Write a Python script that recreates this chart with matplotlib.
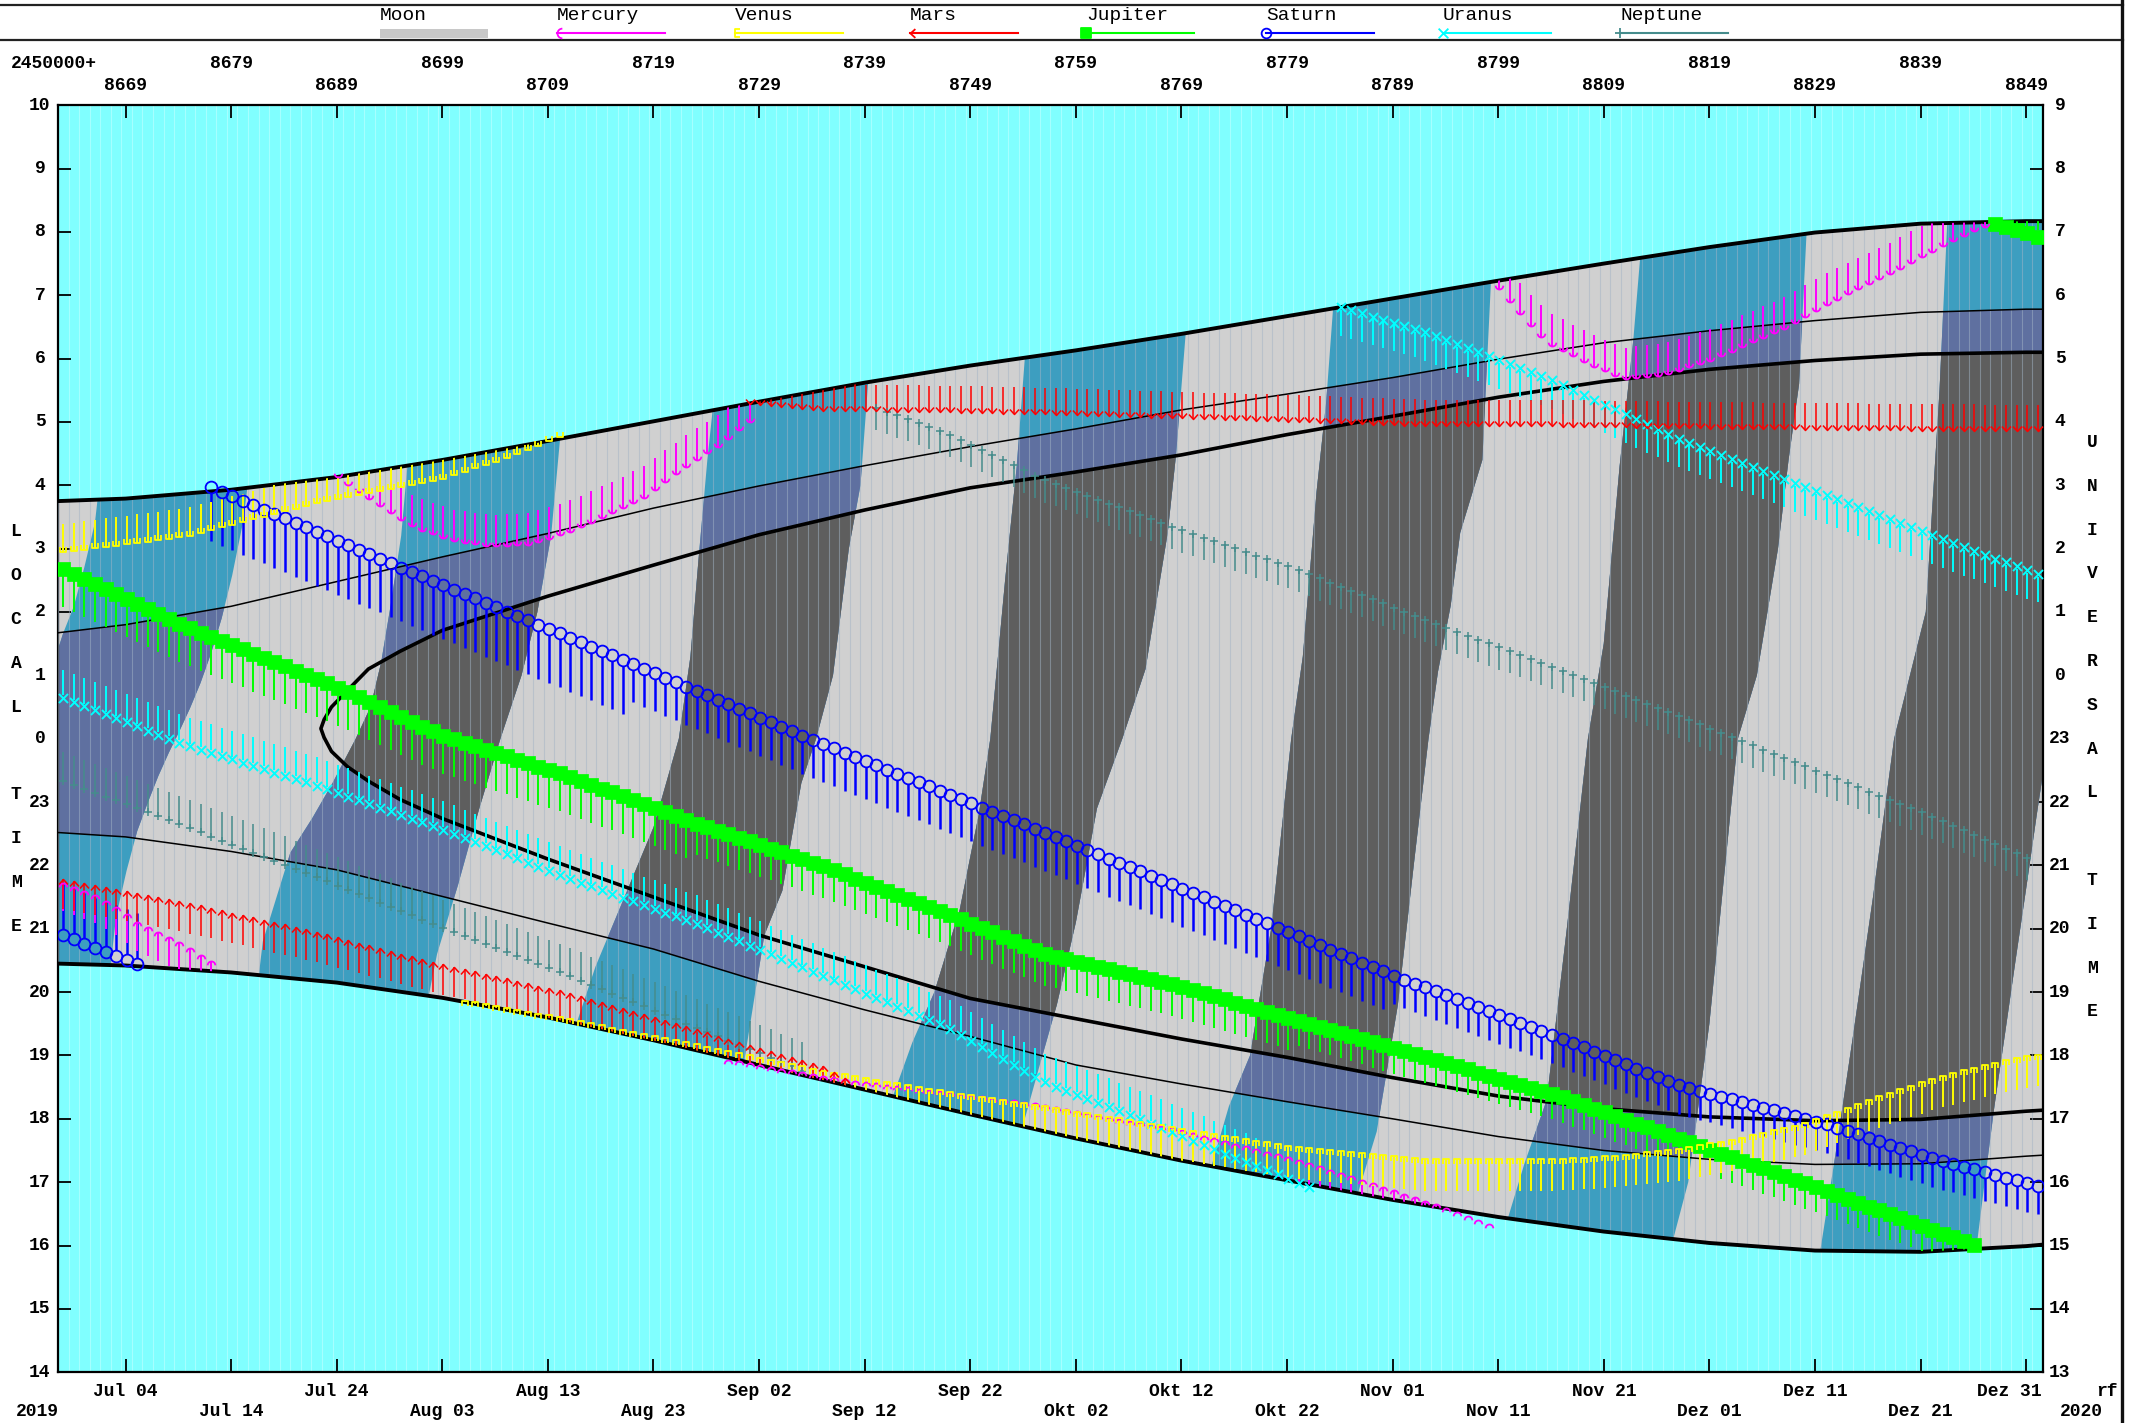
import numpy as np
import matplotlib
matplotlib.use("Agg")
import matplotlib.pyplot as plt
from matplotlib.patches import Polygon, Rectangle
from matplotlib.lines import Line2D
from matplotlib.path import Path
from matplotlib.transforms import Affine2D
from matplotlib.patheffects import AbstractPathEffect
from matplotlib.colors import to_rgba

plt.rcParams["font.family"] = ["Liberation Mono", "DejaVu Sans Mono"]

# x: Julian date - 2450000, y: local time (CET) in hours, after midnight counted on as 24..34

# sun: sunset / sunrise, nautical and astronomical twilight
sun_jd = [8662.5, 8669, 8679, 8689, 8699, 8709, 8719, 8729, 8739, 8749, 8759,
          8769, 8779, 8789, 8799, 8809, 8819, 8829, 8839, 8849, 8851]
sunset = [20.45, 20.42, 20.31, 20.15, 19.91, 19.60, 19.24, 18.85, 18.46, 18.07, 17.69,
          17.34, 17.03, 16.72, 16.45, 16.22, 16.04, 15.92, 15.90, 15.99, 16.02]
sunrise = [27.75, 27.79, 27.93, 28.13, 28.40, 28.70, 29.01, 29.32, 29.62, 29.89, 30.13,
           30.39, 30.67, 30.95, 31.23, 31.50, 31.76, 31.99, 32.13, 32.17, 32.17]
naut_dusk = [22.52, 22.45, 22.22, 21.93, 21.51, 21.09, 20.68, 20.17, 19.72, 19.30, 18.85,
             18.55, 18.27, 18.00, 17.72, 17.50, 17.36, 17.28, 17.29, 17.41, 17.43]
naut_dawn = [25.67, 25.80, 26.09, 26.48, 26.87, 27.24, 27.64, 27.99, 28.31, 28.61, 28.89,
             29.19, 29.44, 29.70, 29.99, 30.25, 30.44, 30.60, 30.73, 30.78, 30.78]
astro_jd = [8687.5, 8687.8, 8688.5, 8690, 8692, 8695, 8699, 8709, 8719, 8729, 8739, 8749,
            8759, 8769, 8779, 8789, 8799, 8809, 8819, 8829, 8839, 8849, 8851]
astro_dusk = [24.16, 24.02, 23.80, 23.56, 23.33, 23.04, 22.74, 22.10, 21.50, 20.90, 20.40, 19.90,
              19.58, 19.26, 18.97, 18.65, 18.36, 18.16, 18.03, 17.97, 17.99, 18.12, 18.14]
astro_dawn = [24.16, 24.30, 24.50, 24.76, 25.10, 25.38, 25.71, 26.25, 26.74, 27.22, 27.61, 27.96,
              28.21, 28.48, 28.80, 29.09, 29.39, 29.64, 29.83, 29.97, 30.07, 30.10, 30.10]

# moon: moonrise / moonset lines bounding each moonless stretch (JD, hour)
rise_a = [(8662.0, 25.1), (8663.1, 25.67), (8664.1, 26.09), (8665.1, 26.71), (8666.1, 27.41), (8666.7, 28.3)]
set_a = [(8667.3, 20.0), (8668.1, 21.19), (8669.1, 21.92), (8670.1, 22.54), (8671.1, 22.99),
         (8672.1, 23.41), (8673.1, 23.78), (8674.1, 24.12), (8675.1, 24.48), (8676.1, 24.88),
         (8677.1, 25.35), (8678.1, 25.90), (8679.1, 26.58), (8680.1, 27.40), (8680.8, 28.3)]
rise_b = [(8681.5, 20.1), (8682.0, 20.8), (8684.6, 22.2), (8686.7, 22.75), (8688.6, 23.3), (8690.8, 24.0),
          (8692.2, 24.5), (8693.2, 25.2), (8694.1, 26.1), (8695.1, 27.2), (8695.8, 28.5)]
set_b = [(8697.3, 19.6), (8698.5, 20.6), (8700.5, 21.7), (8702.5, 22.9), (8704.5, 24.0),
         (8706.5, 25.0), (8708.0, 26.0), (8709.3, 27.2), (8710.3, 29.0)]
rise_c = [(8711.3, 19.3), (8713.5, 20.4), (8716.5, 21.6), (8719.0, 22.6), (8721.4, 24.0),
          (8722.5, 25.3), (8723.3, 26.9), (8724.1, 28.4), (8724.8, 29.5)]
set_c = [(8727.3, 18.6), (8729.5, 20.9), (8731.2, 21.6), (8733.0, 23.3), (8734.4, 24.0),
         (8736.0, 25.0), (8737.5, 27.0), (8738.6, 28.0), (8739.5, 30.0)]
rise_d = [(8740.9, 18.0), (8743.5, 19.2), (8745.6, 20.0), (8748.0, 21.3), (8749.8, 22.8),
          (8750.9, 24.0), (8752.3, 26.5), (8753.4, 28.3), (8754.3, 30.3)]
set_d = [(8753.5, 17.6), (8755.5, 18.8), (8757.2, 19.8), (8759.0, 21.1), (8761.0, 22.9),
         (8763.4, 24.0), (8765.6, 25.1), (8767.7, 27.25), (8768.5, 28.5), (8769.5, 30.6)]
rise_e = [(8771.4, 17.0), (8773.5, 18.2), (8775.5, 19.0), (8777.5, 21.0), (8779.4, 24.0),
          (8780.5, 25.3), (8781.8, 27.9), (8782.7, 29.3), (8783.5, 31.1)]
set_e = [(8785.3, 16.6), (8787.5, 17.8), (8789.5, 19.8), (8791.0, 22.0), (8792.4, 24.0),
         (8793.3, 25.06), (8794.5, 26.1), (8795.4, 27.25), (8797.5, 28.4), (8798.4, 31.5)]
rise_f = [(8799.5, 16.2), (8801.5, 17.3), (8803.6, 18.3), (8805.5, 21.0), (8807.5, 24.0),
          (8809.0, 25.5), (8810.5, 28.3), (8811.8, 30.3), (8812.6, 31.9)]
set_f = [(8815.1, 15.8), (8817.0, 17.0), (8819.0, 19.5), (8820.5, 22.0), (8821.7, 24.0),
         (8823.5, 25.0), (8825.5, 27.0), (8826.5, 28.4), (8827.5, 29.6), (8828.3, 32.3)]
rise_g = [(8829.3, 15.7), (8831.0, 17.5), (8832.6, 19.3), (8834.5, 21.5), (8836.5, 24.0),
          (8839.5, 26.0), (8840.8, 29.5), (8841.6, 32.4)]
set_g = [(8844.1, 15.7), (8845.0, 16.9), (8846.0, 18.2), (8847.0, 19.34), (8848.0, 20.5),
         (8849.0, 21.63), (8850.0, 22.79), (8851.0, 23.9)]

# planets: rising / setting times (JD, hour)
mercury_set1 = [(8662.6, 21.76), (8666.1, 21.54), (8668.1, 21.35), (8670.1, 21.10), (8674.7, 20.74), (8677.7, 20.42)]
mercury_rise1 = [(8688.9, 28.15), (8691.0, 27.90), (8694.0, 27.57), (8696.4, 27.32), (8700.0, 27.12),
                 (8703.6, 27.03), (8707.3, 27.06), (8710.9, 27.25), (8714.5, 27.51), (8718.1, 27.80),
                 (8721.7, 28.25), (8725.4, 28.64), (8729.0, 29.12)]
mercury_set2 = [(8725.5, 18.95), (8738.0, 18.60), (8748.0, 18.40), (8755.9, 18.23), (8761.9, 18.03),
                (8768.0, 17.87), (8774.0, 17.61), (8780.0, 17.36), (8786.1, 17.04), (8792.1, 16.71), (8798.2, 16.33)]
mercury_rise2 = [(8798.8, 31.15), (8801.9, 30.54), (8803.9, 30.22), (8807.8, 29.89), (8811.0, 29.67),
                 (8815.0, 29.75), (8819.0, 29.96), (8826.1, 30.47), (8830.2, 30.86), (8836.2, 31.34),
                 (8841.1, 31.78), (8844.1, 32.01), (8846.0, 32.15)]
venus_rise = [(8662.6, 26.93), (8674.7, 27.19), (8686.7, 27.70), (8698.8, 28.09), (8704.8, 28.41), (8710.3, 28.77)]
venus_set = [(8700.6, 19.88), (8710.9, 19.58), (8722.9, 19.18), (8735.0, 18.76), (8747.1, 18.42),
             (8756.0, 18.20), (8768.0, 17.87), (8780.0, 17.55), (8792.1, 17.36), (8804.2, 17.36),
             (8810.2, 17.42), (8816.2, 17.52), (8822.3, 17.71), (8828.3, 17.94), (8834.4, 18.32),
             (8840.4, 18.65), (8846.4, 18.90), (8850.6, 19.03)]
mars_set = [(8662.6, 21.80), (8674.7, 21.42), (8686.7, 20.97), (8698.8, 20.45), (8710.9, 20.00),
            (8722.9, 19.42), (8735.0, 18.84), (8738.0, 18.55)]
mars_rise = [(8727.8, 29.28), (8735.0, 29.18), (8747.1, 29.15), (8756.0, 29.12), (8768.0, 29.06),
             (8780.0, 29.00), (8792.1, 28.93), (8804.2, 28.93), (8816.2, 28.90), (8828.3, 28.88),
             (8840.4, 28.86), (8850.6, 28.85)]
jupiter_set_summer = [(8662.6, 26.72), (8674.7, 25.77), (8689.2, 24.80), (8698.8, 24.06), (8710.9, 23.41), (8722.9, 22.67)]
jupiter_set_autumn = [(8722.9, 22.67), (8735.0, 21.99), (8747.1, 21.22), (8756.0, 20.60), (8768.0, 20.13), (8780.0, 19.55)]
jupiter_set_winter = [(8780.0, 19.55), (8792.1, 18.97), (8804.2, 18.39), (8816.2, 17.68), (8828.3, 16.97),
                      (8840.4, 16.23), (8844.8, 15.97)]
jupiter_rise = [(8845.6, 32.15), (8850.6, 31.90)]
saturn_rise = [(8662.6, 20.94), (8666.1, 20.69), (8670.4, 20.43)]
saturn_set_summer = [(8676.8, 27.99), (8696.4, 26.61), (8716.9, 25.19)]
saturn_set_autumn = [(8716.9, 25.19), (8733.8, 24.00), (8756.0, 22.52), (8768.0, 21.71), (8789.1, 20.26)]
saturn_set_winter = [(8789.1, 20.26), (8804.2, 19.32), (8816.2, 18.52), (8830.4, 17.90), (8840.4, 17.36), (8850.6, 16.92)]
uranus_rise = [(8662.6, 24.67), (8674.7, 23.90), (8686.7, 23.28), (8698.8, 22.58), (8710.9, 21.80),
               (8722.9, 21.09), (8735.0, 20.26), (8747.1, 19.42), (8756.0, 18.58), (8765.0, 18.00),
               (8774.0, 17.39), (8781.5, 16.90)]
uranus_set = [(8783.7, 30.83), (8792.1, 30.42), (8804.2, 29.65), (8816.2, 28.73), (8828.3, 27.96),
              (8840.4, 27.19), (8850.6, 26.57)]
neptune_rise = [(8662.6, 23.37), (8674.7, 22.61), (8686.7, 21.84), (8698.8, 21.03), (8710.9, 20.26),
                (8722.9, 19.45), (8734.0, 18.70)]
neptune_set = [(8739.2, 29.28), (8747.1, 28.80), (8755.9, 28.09), (8768.0, 27.35), (8780.0, 26.67),
               (8792.1, 25.87), (8804.2, 25.13), (8816.2, 24.35), (8828.3, 23.55), (8840.4, 22.75), (8850.0, 22.05)]

tick_jd = list(range(8669, 8850, 10))
tick_dates = ["Jul 04", "Jul 14", "Jul 24", "Aug 03", "Aug 13", "Aug 23", "Sep 02", "Sep 12",
              "Sep 22", "Okt 02", "Okt 12", "Okt 22", "Nov 01", "Nov 11", "Nov 21", "Dez 01",
              "Dez 11", "Dez 21", "Dez 31"]
hours = list(range(14, 35))

CYAN, LIGHT, DARK, BLUE, SLATE = "#80ffff", "#d0d0d0", "#5e5e5e", "#3d9ec0", "#5f70a0"
W, H = 2136, 1423
X_L, X_R, Y_T, Y_B = 58, 2043, 105.2, 1372.2
X0, X1 = 8662.6, 8850.6
COL = 0.1  # day columns are centred on JD x.1


class DayStamp(AbstractPathEffect):
    """Stroke style: a symbol and/or a vertical tick on every day column the line crosses."""

    def __init__(self, symbol=None, size=8.0, tick=0.0, up=True, color="k", lw=1.5, filled=False, gap=0.0):
        super().__init__()
        self.symbol, self.size, self.tick, self.up = symbol, size, tick, up
        self.color, self.lw, self.filled, self.gap = color, lw, filled, gap

    def draw_path(self, renderer, gc, tpath, affine, rgbFace=None):
        vx, vy = tpath.vertices[:, 0], tpath.vertices[:, 1]
        days = np.arange(np.ceil(vx.min() - COL) + COL, vx.max(), 1.0)
        if len(days) == 0:
            return
        pts = affine.transform(np.column_stack([days, np.interp(days, vx, vy)]))
        g = renderer.new_gc()
        g.copy_properties(gc)
        g.set_foreground(self.color)
        g.set_linewidth(self.lw)
        g.set_dashes(0, None)
        g.set_capstyle("butt")
        sign = 1 if self.up else -1
        if self.tick:
            hour_px = affine.transform([(0, 1)])[0, 1] - affine.transform([(0, 0)])[0, 1]
            verts = np.empty((2 * len(pts), 2))
            verts[0::2, 0] = pts[:, 0]
            verts[1::2, 0] = pts[:, 0]
            verts[0::2, 1] = pts[:, 1] + sign * renderer.points_to_pixels(self.gap)
            verts[1::2, 1] = pts[:, 1] + sign * self.tick * hour_px
            codes = np.tile([Path.MOVETO, Path.LINETO], len(pts))
            renderer.draw_path(g, Path(verts, codes), Affine2D())
        if self.symbol is not None:
            s = renderer.points_to_pixels(self.size)
            face = to_rgba(self.color) if self.filled else None
            renderer.draw_markers(g, self.symbol, Affine2D().scale(s, sign * s), Path(pts), Affine2D(), face)
        g.restore()


# symbols drawn for a rising planet (tick pointing up); flipped for setting
CIRCLE = Path.circle((0, 0), 0.5)
SQUARE = Path([(-.5, -.5), (.5, -.5), (.5, .5), (-.5, .5), (-.5, -.5)],
              [Path.MOVETO, Path.LINETO, Path.LINETO, Path.LINETO, Path.CLOSEPOLY])
XMARK = Path([(-.5, -.5), (.5, .5), (-.5, .5), (.5, -.5)], [1, 2, 1, 2])
PLUS = Path([(-.5, 0), (.5, 0), (0, -.5), (0, .5)], [1, 2, 1, 2])
CHEVRON = Path([(-.5, .55), (0, 0), (.5, .55)])
CUP = Path([(-.45, .6), (-.45, 0), (.45, 0), (.45, .6)])
ARC = Affine2D().scale(0.5).translate(0, 0.5).transform_path(Path.arc(180, 360))

fig = plt.figure(figsize=(W / 100, H / 100), dpi=100)
ax = fig.add_axes([X_L / W, 1 - Y_B / H, (X_R - X_L) / W, (Y_B - Y_T) / H])
ax.set_xlim(X0, X1)
ax.set_ylim(14, 34)
ax.set_facecolor(CYAN)


def zone(jd, low, high):
    xy = list(zip(jd, low)) + list(zip(jd[::-1], high[::-1]))
    return Polygon(xy, closed=True, transform=ax.transData)


night_clip = zone(sun_jd, sunset, sunrise)
naut_clip = zone(sun_jd, naut_dusk, naut_dawn)
astro_clip = zone(astro_jd, astro_dusk, astro_dawn)

# day columns in daylight
ax.vlines(np.arange(X0, X1, 1.0), 14, 34, colors="white", alpha=0.3, lw=0.8, zorder=0.5)

# night, moon up everywhere first
ax.fill_between(sun_jd, sunset, sunrise, color=LIGHT, lw=0, zorder=1)

bands = [(rise_a, set_a), (rise_b, set_b), (rise_c, set_c), (rise_d, set_d),
         (rise_e, set_e), (rise_f, set_f), (rise_g, set_g)]
for rise, sett in bands:
    verts = [(rise[0][0], 13)] + rise + [(rise[-1][0], 35), (sett[-1][0], 35)] + sett[::-1] + [(sett[0][0], 13)]
    for z, (colour, clip) in enumerate([(BLUE, night_clip), (SLATE, naut_clip), (DARK, astro_clip)]):
        p = Polygon(verts, closed=True, facecolor=colour, edgecolor="none", zorder=2 + z * 0.1)
        ax.add_patch(p)
        p.set_clip_path(clip)

sep = ax.vlines(np.arange(X0, X1, 1.0), 14, 34, colors="#a3b4c6", alpha=0.5, lw=0.8, zorder=3)
sep.set_clip_path(night_clip)

ax.plot(sun_jd, sunset, color="k", lw=2.8, zorder=4)
ax.plot(sun_jd, sunrise, color="k", lw=2.8, zorder=4)
ax.plot(sun_jd, naut_dusk, color="k", lw=1.1, zorder=4)
ax.plot(sun_jd, naut_dawn, color="k", lw=1.1, zorder=4)
ax.plot(astro_jd[::-1] + astro_jd, astro_dusk[::-1] + astro_dawn, color="k", lw=2.6, zorder=4)


def planet(pts, colour, symbol, size, tick, up, lw_tick, lw_sym, filled=False, gap=0.0):
    jd = [p[0] for p in pts]
    hr = [p[1] for p in pts]
    if tick:
        t, = ax.plot(jd, hr, color=colour, lw=1, zorder=5)
        t.set_path_effects([DayStamp(tick=tick, up=up, color=colour, lw=lw_tick, gap=gap)])
        t.set_clip_path(night_clip)
    m, = ax.plot(jd, hr, color=colour, lw=1, zorder=6)
    m.set_path_effects([DayStamp(symbol, size, up=up, color=colour, lw=lw_sym, filled=filled)])


NEP, URA, SAT, JUP = "#458c8c", "#00ffff", "#0000ff", "#00ff00"
MER, VEN, MAR = "#ff00ff", "#ffff00", "#ff0000"
planet(neptune_rise, NEP, PLUS, 5.5, 0.45, True, 1.1, 1.1)
planet(neptune_set, NEP, PLUS, 5.5, 0.35, False, 1.1, 1.1)
planet(uranus_rise, URA, XMARK, 6.5, 0.45, True, 1.4, 1.4, gap=2)
planet(uranus_set, URA, XMARK, 6.5, 0.45, False, 1.4, 1.4, gap=2)
planet(saturn_rise, SAT, CIRCLE, 8.5, 0.8, True, 1.8, 1.3, gap=4.2)
planet(saturn_set_summer, SAT, CIRCLE, 8.5, 0.85, False, 1.8, 1.3, gap=4.2)
planet(saturn_set_autumn, SAT, CIRCLE, 8.5, 0.6, False, 1.8, 1.3, gap=4.2)
planet(saturn_set_winter, SAT, CIRCLE, 8.5, 0.45, False, 1.8, 1.3, gap=4.2)
planet(jupiter_set_summer, JUP, SQUARE, 9.5, 0.6, False, 1.4, 0.5, filled=True, gap=4.7)
planet(jupiter_set_autumn, JUP, SQUARE, 9.5, 0.5, False, 1.4, 0.5, filled=True, gap=4.7)
planet(jupiter_set_winter, JUP, SQUARE, 9.5, 0.4, False, 1.4, 0.5, filled=True, gap=4.7)
planet(jupiter_rise, JUP, SQUARE, 9.5, 0.4, True, 1.4, 0.5, filled=True, gap=4.7)
planet(mercury_set1, MER, ARC, 5.5, 0.45, False, 1.4, 1.3)
planet(mercury_rise1, MER, ARC, 5.5, 0.5, True, 1.4, 1.3)
planet(mercury_set2, MER, ARC, 5.5, 0.35, False, 1.4, 1.3)
planet(mercury_rise2, MER, ARC, 5.5, 0.5, True, 1.4, 1.3)
planet(venus_rise, VEN, CUP, 5.5, 0.45, True, 1.4, 1.3)
planet(venus_set, VEN, CUP, 5.5, 0.5, False, 1.4, 1.3)
planet(mars_set, MAR, CHEVRON, 6.5, 0.48, False, 1.1, 1.1)
planet(mars_rise, MAR, CHEVRON, 6.5, 0.42, True, 1.1, 1.1)

# axes frame and ticks
for s in ax.spines.values():
    s.set_linewidth(1.6)
ax.set_xticks(tick_jd)
ax.set_yticks(hours[1:-1])
ax.tick_params(direction="in", length=9.4, width=1.3, top=True, right=True,
               labelbottom=False, labelleft=False)

tf = dict(fontsize=13, fontweight="bold", ha="center", va="center")
xt = ax.get_xaxis_transform()
yt = ax.get_yaxis_transform()


def ay(py):
    return (Y_B - py) / (Y_B - Y_T)


def axx(px):
    return (px - X_L) / (X_R - X_L)


for i, (jd, lab) in enumerate(zip(tick_jd, tick_dates)):
    ax.text(jd, ay(86 if i % 2 == 0 else 63), str(jd), transform=xt, **tf)
    x = jd - 1.6 if lab == "Dez 31" else jd
    ax.text(x, ay(1391 if i % 2 == 0 else 1412), lab, transform=xt, **tf)
ax.text(axx(11), ay(63), "2450000+", transform=ax.transAxes, fontsize=13, fontweight="bold", ha="left", va="center")
ax.text(axx(37), ay(1412), "2019", transform=ax.transAxes, **tf)
ax.text(axx(2081), ay(1412), "2020", transform=ax.transAxes, **tf)
ax.text(axx(2107), ay(1391), "rf", transform=ax.transAxes, **tf)

for h in hours:
    ax.text(axx(40), h, str(h % 24), transform=yt, **tf)
    ax.text(axx(2060), h, str((h - 1) % 24), transform=yt, **tf)

for i, ch in enumerate("LOCAL TIME"):
    fig.text(16 / W, 1 - (531.4 + 43.9 * i) / H, ch, **tf)
for i, ch in enumerate("UNIVERSAL TIME"):
    fig.text(2092 / W, 1 - (442.5 + 43.8 * i) / H, ch, **tf)

# legend strip
for y in (5, 40):
    fig.add_artist(Line2D([0, 2123 / W], [1 - y / H] * 2, transform=fig.transFigure, color="#222222", lw=1.6))
fig.add_artist(Line2D([2122 / W] * 2, [0, 1], transform=fig.transFigure, color="#111111", lw=2.4))

legend = [("Moon", "#c8c8c8", None, False), ("Mercury", MER, ARC, False), ("Venus", VEN, CUP, False),
          ("Mars", MAR, CHEVRON, False), ("Jupiter", JUP, SQUARE, True), ("Saturn", SAT, CIRCLE, False),
          ("Uranus", URA, XMARK, False), ("Neptune", NEP, PLUS, False)]
legend_x = [380, 557, 735, 910, 1086, 1266, 1443, 1620]
for (name, colour, sym, filled), lx in zip(legend, legend_x):
    fig.text(lx / W, 1 - 16 / H, name, fontsize=14, ha="left", va="center")
    if sym is None:
        fig.add_artist(Rectangle((lx / W, 1 - 37.5 / H), 108 / W, 9 / H, transform=fig.transFigure,
                                 facecolor=colour, edgecolor="none"))
        continue
    mk = Affine2D().rotate_deg(-90).transform_path(sym)
    fig.add_artist(Line2D([lx / W, (lx + 108) / W], [1 - 33 / H] * 2, transform=fig.transFigure,
                          color=colour, lw=1.5, marker=mk, markevery=[0], markersize=7,
                          mfc=colour if filled else "none", mec=colour, mew=1.3))

fig.savefig("out.png", dpi=100)
